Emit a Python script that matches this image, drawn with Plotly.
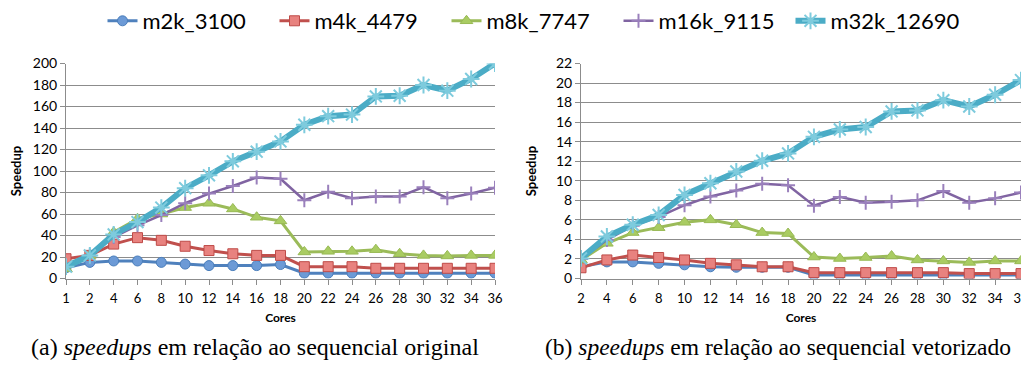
import plotly.graph_objects as go

# ---------------- data ----------------
cores_a = [1, 2, 4, 6, 8, 10, 12, 14, 16, 18, 20, 22, 24, 26, 28, 30, 32, 34, 36]
cores_b = [2, 4, 6, 8, 10, 12, 14, 16, 18, 20, 22, 24, 26, 28, 30, 32, 34, 36]

series_names = ["m2k_3100", "m4k_4479", "m8k_7747", "m16k_9115", "m32k_12690"]

# (a) speedups relative to original sequential
a_m2k = [10, 15, 16.3, 16.3, 15, 13.4, 12, 12, 12, 13, 5, 5, 5, 5, 5, 5, 5, 5, 5]
a_m4k = [18.4, 21.5, 32, 38, 35.5, 30, 26, 23, 21.5, 21.5, 11, 11, 11, 9.5, 9.5, 9.5, 9.5, 9.5, 9.5]
a_m8k = [9, 21.5, 43, 55.5, 60, 66, 70, 64.7, 57, 53.6, 24.7, 25.3, 25.3, 26.8, 23, 21.5, 21, 21.5, 21.5]
a_m16k = [11, 21.5, 38.5, 49.5, 59, 70, 79, 86, 94, 92.8, 72.8, 80.6, 74.7, 76.3, 76.3, 85, 74.7, 79, 84.4]
a_m32k = [11, 21.5, 41, 52.5, 66, 84, 96, 109, 118, 127.5, 143, 151, 152.5, 169.4, 170, 180, 174.7, 185.6, 200]

# (b) speedups relative to vectorized sequential
b_m2k = [1.2, 1.7, 1.7, 1.55, 1.4, 1.2, 1.15, 1.15, 1.15, 0.35, 0.35, 0.35, 0.35, 0.35, 0.35, 0.35, 0.35, 0.35]
b_m4k = [1.1, 1.9, 2.4, 2.15, 1.9, 1.55, 1.4, 1.2, 1.2, 0.6, 0.6, 0.6, 0.6, 0.6, 0.6, 0.5, 0.5, 0.5]
b_m8k = [1.9, 3.6, 4.7, 5.2, 5.75, 6.0, 5.5, 4.7, 4.6, 2.2, 2.05, 2.15, 2.3, 1.9, 1.8, 1.65, 1.8, 1.8]
b_m16k = [2.0, 3.95, 5.4, 6.3, 7.5, 8.4, 9.0, 9.7, 9.55, 7.45, 8.35, 7.75, 7.85, 8.0, 8.95, 7.75, 8.2, 8.8]
b_m32k = [2.05, 4.3, 5.5, 6.5, 8.55, 9.75, 10.95, 12.05, 12.8, 14.5, 15.25, 15.5, 17.1, 17.2, 18.25, 17.6, 18.8, 20.3]

caption_a = "(a) <i>speedups</i> em relação ao sequencial original"
caption_b = "(b) <i>speedups</i> em relação ao sequencial vetorizado"

# ---------------- styles ----------------
styles = [
    dict(color="#4F81BD", width=3, symbol="circle", size=10, fill="#6C9AD6", mline="#4A7EBB", mw=1),
    dict(color="#C0504D", width=3, symbol="square", size=10, fill="#E8827F", mline="#BE4B48", mw=1),
    dict(color="#9BBB59", width=3, symbol="triangle-up", size=11, fill="#A9CC62", mline="#98B954", mw=1),
    dict(color="#8064A2", width=2.5, symbol="cross-thin", size=10, fill="#8064A2", mline="#9A80BC", mw=2),
    dict(color="#4BACC6", width=6, symbol="asterisk", size=14, fill="#4BACC6", mline="#7ECBDD", mw=2),
]

data_a = [a_m2k, a_m4k, a_m8k, a_m16k, a_m32k]
data_b = [b_m2k, b_m4k, b_m8k, b_m16k, b_m32k]

FONT = "Lato"
# page body has an 8px margin; work in figure coordinates (screen - 8)
W, H = 1021, 364
OFF = 8


def px_x(sx):
    return (sx - OFF) / W


def px_y(sy):
    return 1 - (sy - OFF) / H


fig = go.Figure()

for i, (name, st) in enumerate(zip(series_names, styles)):
    for ys, xs, xa, ya, show in [(data_a[i], cores_a, "x", "y", True),
                                 (data_b[i], cores_b, "x2", "y2", False)]:
        fig.add_trace(go.Scatter(
            x=[str(c) for c in xs], y=ys, name=name, legendgroup=name,
            showlegend=show, xaxis=xa, yaxis=ya, mode="lines+markers",
            line=dict(color=st["color"], width=st["width"]),
            marker=dict(symbol=st["symbol"], size=st["size"], color=st["fill"],
                        line=dict(color=st["mline"], width=st["mw"])),
        ))

ydom = [px_y(278.5), px_y(63.5)]
grid = "#8C8C8C"
common_x = dict(type="category", showline=True, linecolor=grid, linewidth=1, automargin=False,
                ticks="outside", ticklen=5, tickcolor=grid, showgrid=False, ticklabelstandoff=3,
                tickfont=dict(family=FONT, size=13, color="#000"),
                title=dict(text="<b>Cores</b>", font=dict(family=FONT, size=12, color="#000"), standoff=8))


def common_y(standoff):
    return dict(showline=True, linecolor=grid, linewidth=1, showgrid=True, gridcolor=grid,
                gridwidth=1, ticks="outside", ticklen=5, tickcolor=grid, zeroline=False, automargin=False,
                tickfont=dict(family=FONT, size=14, color="#000"),
                title=dict(text="<b>Speedup</b>", font=dict(family=FONT, size=13, color="#000"),
                           standoff=standoff))


fig.update_layout(
    width=W, height=H,
    margin=dict(l=0, r=0, t=0, b=0, autoexpand=False),
    paper_bgcolor="white", plot_bgcolor="white",
    xaxis=dict(domain=[px_x(66), px_x(495)], anchor="y", range=[0, len(cores_a)-1], **common_x),
    yaxis=dict(domain=ydom, anchor="x", range=[0, 200], dtick=20, **common_y(8)),
    xaxis2=dict(domain=[px_x(581), px_x(1021)], anchor="y2", range=[0, len(cores_b)-1], **common_x),
    yaxis2=dict(domain=ydom, anchor="x2", range=[0, 22], dtick=2, **common_y(16)),
    legend=dict(orientation="h", x=px_x(141 - 38.5), y=1.022, xanchor="left", yanchor="top",
                font=dict(family=FONT, size=22, color="#000"), itemwidth=30,
                entrywidth=127, entrywidthmode="pixels",
                bgcolor="rgba(0,0,0,0)"),
    showlegend=True,
    annotations=[
        dict(text=caption_a, x=px_x(255), y=px_y(347), xref="paper", yref="paper",
             showarrow=False, font=dict(family="Liberation Serif", size=24, color="#000"),
             xanchor="center", yanchor="middle"),
        dict(text=caption_b, x=px_x(543), y=px_y(347), xref="paper", yref="paper",
             showarrow=False, font=dict(family="Liberation Serif", size=23.5, color="#000"),
             xanchor="left", yanchor="middle"),
    ],
)

fig.write_html("out.html")
